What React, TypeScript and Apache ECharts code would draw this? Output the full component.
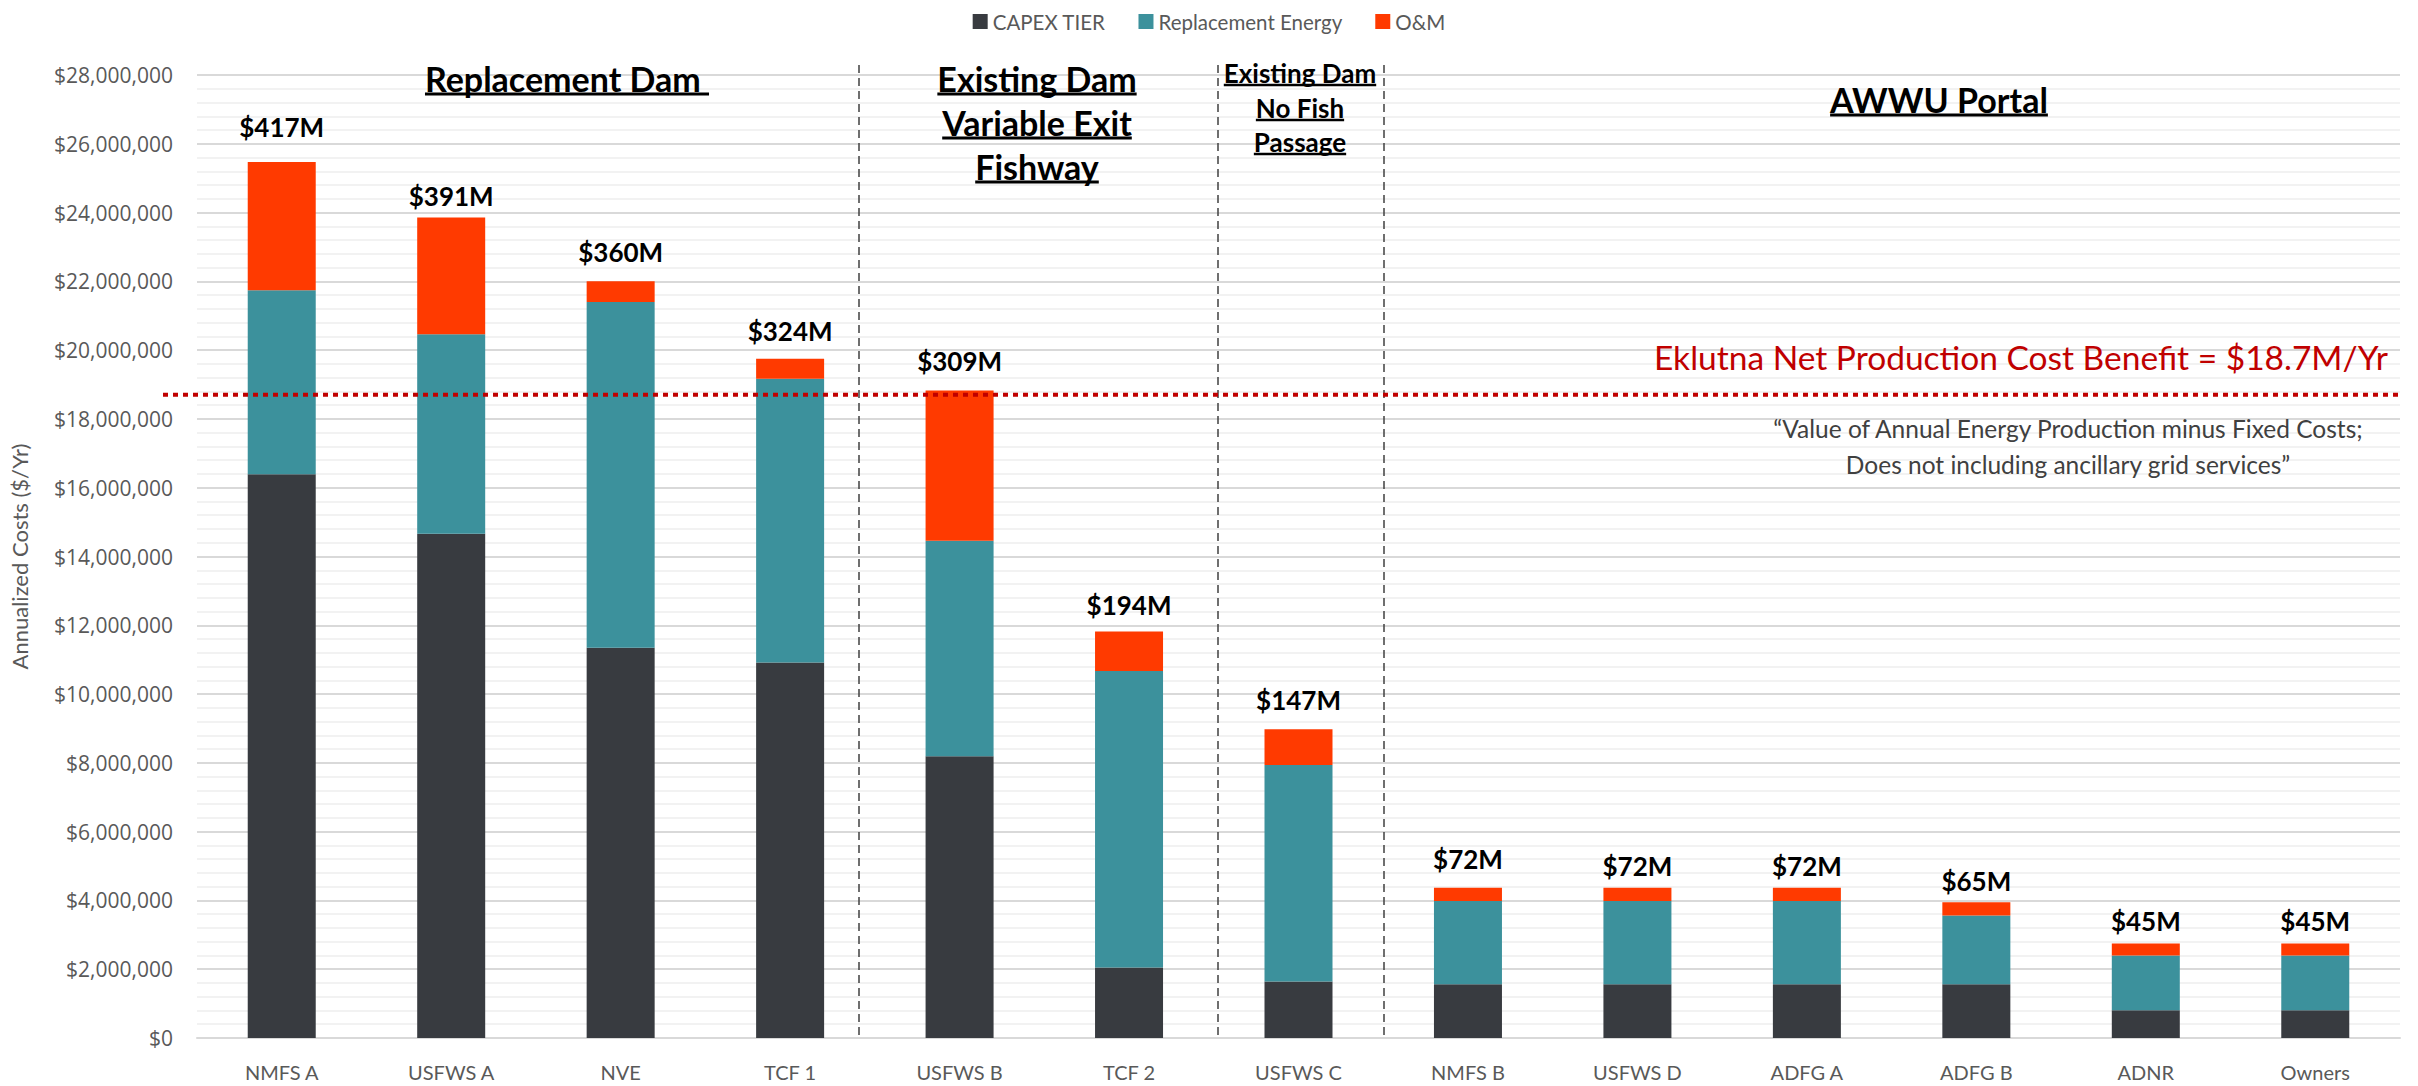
import React, { useEffect, useRef } from 'react';
import * as echarts from 'echarts';

// ---------- data ----------
const categories = ['NMFS A', 'USFWS A', 'NVE', 'TCF 1', 'USFWS B', 'TCF 2', 'USFWS C', 'NMFS B', 'USFWS D', 'ADFG A', 'ADFG B', 'ADNR', 'Owners'];
const capexTier = [16390000, 14660000, 11350000, 10920000, 8190000, 2050000, 1640000, 1560000, 1560000, 1560000, 1560000, 810000, 810000];
const replacementEnergy = [5350000, 5800000, 10050000, 8250000, 6270000, 8620000, 6300000, 2420000, 2420000, 2420000, 2000000, 1590000, 1590000];
const oAndM = [3730000, 3400000, 600000, 580000, 4370000, 1150000, 1040000, 390000, 390000, 390000, 390000, 350000, 350000];
const lifetimeCostLabels = ['$417M', '$391M', '$360M', '$324M', '$309M', '$194M', '$147M', '$72M', '$72M', '$72M', '$65M', '$45M', '$45M'];
const seriesNames = ['CAPEX TIER', 'Replacement Energy', 'O&M'];
const netBenefit = 18700000;
const benefitText = 'Eklutna Net Production Cost Benefit = $18.7M/Yr';
const quoteLines = ['\u201CValue of Annual Energy Production minus Fixed Costs;', 'Does not including ancillary grid services\u201D'];
const yAxisTitle = 'Annualized Costs ($/Yr)';

// ---------- styles / layout ----------
const COLORS = ['#383B40', '#3C919C', '#FF3A00'];
const labelGaps = [22, 8, 16, 15, 16, 13, 16, 16, 9, 9, 8, 9, 9];
const headerLines = [
  { text: 'Replacement Dam ', cx: 567, cy: 78, size: 34 },
  { text: 'Existing Dam', cx: 1037, cy: 78, size: 34 },
  { text: 'Variable Exit', cx: 1037, cy: 122, size: 34 },
  { text: 'Fishway', cx: 1037, cy: 166, size: 34 },
  { text: 'Existing Dam', cx: 1300, cy: 73, size: 26 },
  { text: 'No Fish', cx: 1300, cy: 108, size: 26 },
  { text: 'Passage', cx: 1300, cy: 142, size: 26 },
  { text: 'AWWU Portal', cx: 1939, cy: 99, size: 34 },
];
const separatorXs = [859, 1218, 1384];
const FONT = 'Lato, "Open Sans", sans-serif';

function measure(text: string, font: string): number {
  const ctx = document.createElement('canvas').getContext('2d');
  if (!ctx) return text.length * 10;
  ctx.font = font;
  return ctx.measureText(text).width;
}

export default function App() {
  const ref = useRef<HTMLDivElement>(null);

  useEffect(() => {
    if (!ref.current) return;
    const chart = echarts.init(ref.current, undefined, { renderer: 'svg' });

    const option: any = {
      animation: false,
      backgroundColor: '#ffffff',
      color: COLORS,
      legend: {
        data: seriesNames,
        top: 6,
        left: 'center',
        itemWidth: 15,
        itemHeight: 15,
        itemGap: 33,
        icon: 'rect',
        textStyle: { fontFamily: FONT, fontSize: 20.5, color: '#595959' },
      },
      grid: { left: 190, top: 75, width: 2210, height: 963, containLabel: false },
      xAxis: {
        type: 'category',
        data: categories,
        axisLine: { show: true, lineStyle: { color: '#D9D9D9', width: 2 } },
        axisTick: { show: false },
        axisLabel: { fontFamily: FONT, fontSize: 20, color: '#595959', margin: 24 },
      },
      yAxis: {
        type: 'value',
        min: 0,
        max: 28000000,
        interval: 2000000,
        name: yAxisTitle,
        nameLocation: 'middle',
        nameGap: 167,
        nameRotate: 90,
        nameTextStyle: { fontFamily: FONT, fontSize: 22, color: '#595959' },
        axisLine: { show: false },
        axisTick: { show: false },
        axisLabel: {
          fontFamily: '"Open Sans", sans-serif',
          fontSize: 21,
          color: '#595959',
          margin: 24,
          formatter: (v: number) => '$' + v.toLocaleString('en-US'),
        },
        splitLine: { show: true, lineStyle: { color: '#D9D9D9', width: 2 } },
        minorTick: { show: false, splitNumber: 5 },
        minorSplitLine: { show: true, lineStyle: { color: '#F2F2F2', width: 2 } },
      },
      series: [
        {
          name: seriesNames[0],
          type: 'bar',
          stack: 'total',
          barWidth: 68,
          data: capexTier,
        },
        {
          name: seriesNames[1],
          type: 'bar',
          stack: 'total',
          barWidth: 68,
          data: replacementEnergy,
        },
        {
          name: seriesNames[2],
          type: 'bar',
          stack: 'total',
          barWidth: 68,
          data: oAndM.map((v, i) => ({ value: v, label: { distance: labelGaps[i] } })),
          label: {
            show: true,
            position: 'top',
            fontFamily: FONT,
            fontWeight: 'bold',
            fontSize: 26,
            color: '#000000',
            formatter: (p: any) => lifetimeCostLabels[p.dataIndex],
          },
        },
      ],
    };

    chart.setOption(option);

    const yBenefit = chart.convertToPixel({ yAxisIndex: 0 }, netBenefit) as number;
    const yZero = chart.convertToPixel({ yAxisIndex: 0 }, 0) as number;

    const graphics: any[] = [];
    separatorXs.forEach((x) => {
      graphics.push({
        type: 'line',
        silent: true,
        shape: { x1: x, y1: 65, x2: x, y2: yZero },
        style: { stroke: '#404040', lineWidth: 1.5, lineDash: [8, 5] },
        z: 50,
      });
    });
    graphics.push({
      type: 'line',
      silent: true,
      shape: { x1: 163, y1: yBenefit, x2: 2400, y2: yBenefit },
      style: { stroke: '#C00000', lineWidth: 4, lineDash: [5, 5] },
      z: 60,
    });
    headerLines.forEach((h) => {
      const font = `bold ${h.size}px Lato`;
      const w = measure(h.text, font);
      graphics.push({
        type: 'text',
        silent: true,
        style: {
          text: h.text,
          x: h.cx,
          y: h.cy,
          align: 'center',
          verticalAlign: 'middle',
          fontFamily: FONT,
          fontWeight: 'bold',
          fontSize: h.size,
          fill: '#000000',
        },
        z: 70,
      });
      const uy = h.cy + Math.round(h.size * 0.48);
      graphics.push({
        type: 'line',
        silent: true,
        shape: { x1: h.cx - w / 2, y1: uy, x2: h.cx + w / 2, y2: uy },
        style: { stroke: '#000000', lineWidth: h.size > 30 ? 3 : 2.5 },
        z: 70,
      });
    });
    graphics.push({
      type: 'text',
      silent: true,
      style: {
        text: benefitText,
        x: 2388,
        y: 357,
        align: 'right',
        verticalAlign: 'middle',
        fontFamily: FONT,
        fontSize: 33.5,
        fill: '#C00000',
      },
      z: 70,
    });
    quoteLines.forEach((t, i) => {
      graphics.push({
        type: 'text',
        silent: true,
        style: {
          text: t,
          x: 2068,
          y: 428 + i * 36,
          align: 'center',
          verticalAlign: 'middle',
          fontFamily: FONT,
          fontSize: 24.5,
          fill: '#404040',
        },
        z: 70,
      });
    });

    chart.setOption({ graphic: graphics });

    return () => {
      chart.dispose();
    };
  }, []);

  return (
    <div
      ref={ref}
      style={{ position: 'fixed', left: 0, top: 0, width: 2418, height: 1086, background: '#ffffff' }}
    />
  );
}
